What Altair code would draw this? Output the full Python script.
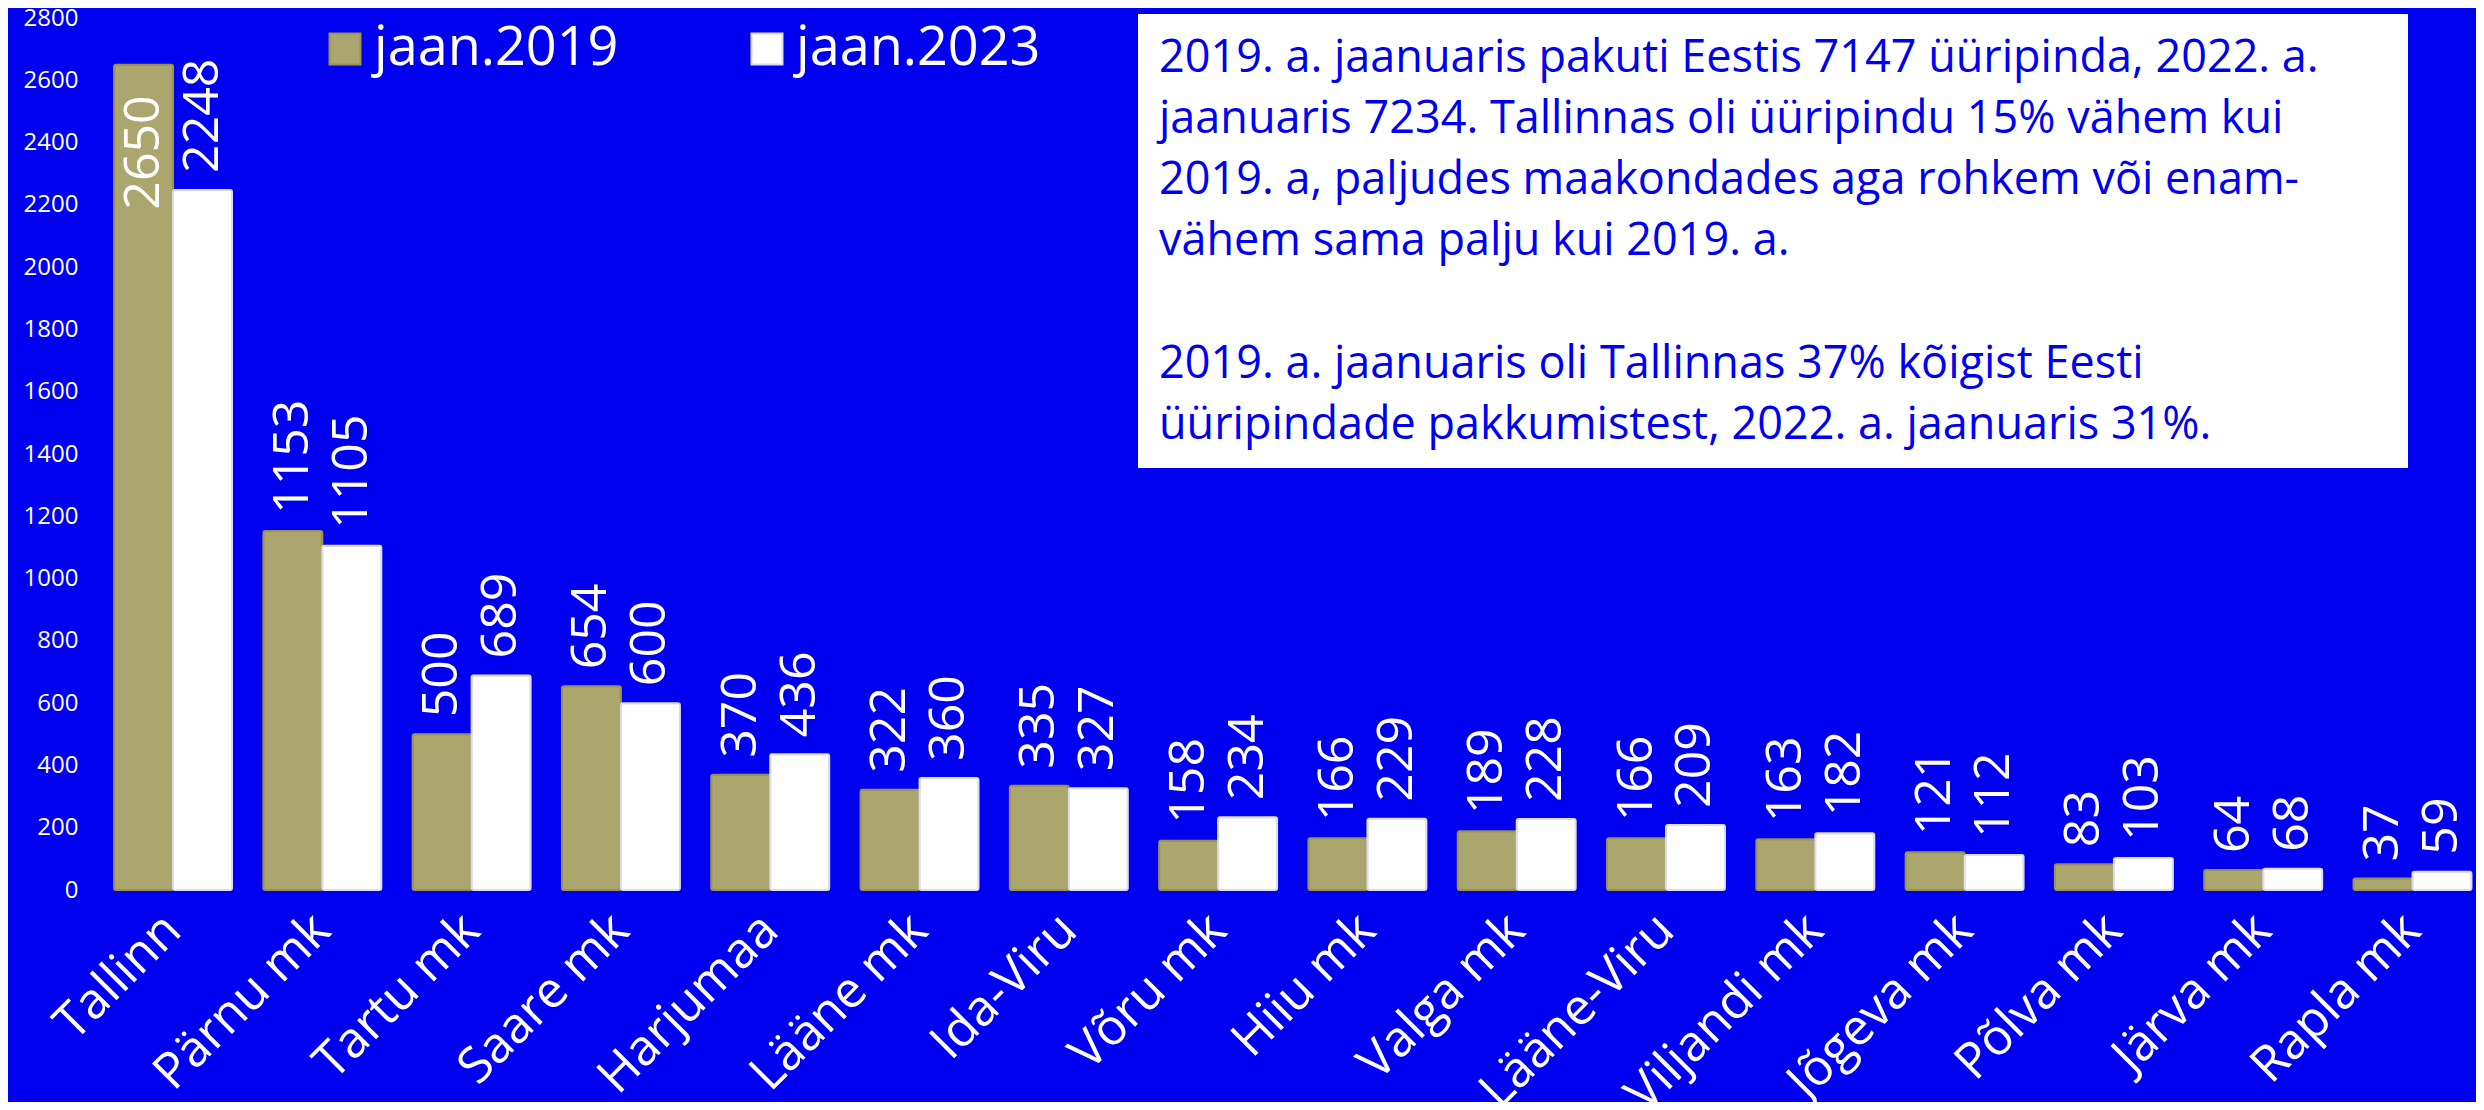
import altair as alt
import pandas as pd

regions = ["Tallinn", "Pärnu mk", "Tartu mk", "Saare mk", "Harjumaa", "Lääne mk",
           "Ida-Viru", "Võru mk", "Hiiu mk", "Valga mk", "Lääne-Viru", "Viljandi mk",
           "Jõgeva mk", "Põlva mk", "Järva mk", "Rapla mk"]
v2019 = [2650, 1153, 500, 654, 370, 322, 335, 158, 166, 189, 166, 163, 121, 83, 64, 37]
v2023 = [2248, 1105, 689, 600, 436, 360, 327, 234, 229, 228, 209, 182, 112, 103, 68, 59]
series = ["jaan.2019", "jaan.2023"]
y_ticks = list(range(0, 2801, 200))
note_par1 = [
    "2019. a. jaanuaris pakuti Eestis 7147 üüripinda, 2022. a.",
    "jaanuaris 7234. Tallinnas oli üüripindu 15% vähem kui",
    "2019. a, paljudes maakondades aga rohkem või enam-",
    "vähem sama palju kui 2019. a.",
]
note_par2 = [
    "2019. a. jaanuaris oli Tallinnas 37% kõigist Eesti",
    "üüripindade pakkumistest, 2022. a. jaanuaris 31%.",
]

BLUE = "#0000F0"
KHAKI = "#ABA66D"
FONT = "Open Sans"

rows = []
for r, a, b in zip(regions, v2019, v2023):
    rows.append({"region": r, "series": series[0], "value": a})
    rows.append({"region": r, "series": series[1], "value": b})
df = pd.DataFrame(rows)

x_enc = alt.X("region:N", sort=regions,
              scale=alt.Scale(paddingInner=0.21, paddingOuter=0.069, align=0.78),
              axis=alt.Axis(title=None, labelAngle=-45, labelAlign="right",
                            labelBaseline="middle", labelFontSize=50, labelColor="white",
                            labelFont=FONT, labelPadding=32, ticks=False, domain=False,
                            labelLimit=600, labelOverlap=False, grid=False))
xoff = alt.XOffset("series:N", sort=series)
y_scale = alt.Scale(domain=[0, 2800], nice=False)

base = alt.Chart(df)

bars = base.mark_bar(cornerRadius=2, strokeWidth=2).encode(
    x=x_enc,
    xOffset=xoff,
    y=alt.Y("value:Q", scale=y_scale,
            axis=alt.Axis(title=None, values=y_ticks, format="d", labelFontSize=24,
                          labelColor="white", labelFont=FONT, labelPadding=20,
                          ticks=False, domain=False, grid=False)),
    fill=alt.Fill("series:N", sort=series,
                  scale=alt.Scale(domain=series, range=[KHAKI, "#FFFFFF"]),
                  legend=alt.Legend(title=None, orient="none", legendX=220, legendY=4,
                                    direction="horizontal", symbolType="square",
                                    symbolSize=961, labelFontSize=54, labelColor="white",
                                    labelFont=FONT, labelOffset=2, columnPadding=121,
                                    labelLimit=500, padding=0, symbolStrokeWidth=2,
                                    symbolOpacity=1)),
    stroke=alt.Stroke("series:N", sort=series,
                      scale=alt.Scale(domain=series, range=["#9A9450", "#DCDCF0"]),
                      legend=None),
)

labels = base.transform_calculate(
    labelY="datum.value > 2400 ? datum.value - 520 : datum.value"
).mark_text(angle=270, align="left", baseline="middle", dx=17, fontSize=50,
            color="white", font=FONT).encode(
    x=alt.X("region:N", sort=regions),
    xOffset=xoff,
    y=alt.Y("labelY:Q", scale=y_scale),
    text=alt.Text("value:Q"),
)

note_df = pd.DataFrame({"k": [1]})
box = alt.Chart(note_df).mark_rect(color="white").encode(
    x=alt.value(1040), x2=alt.value(2310), y=alt.value(-4), y2=alt.value(450)
)
note_style = dict(align="left", baseline="alphabetic", fontSize=45, color=BLUE,
                  font=FONT, lineHeight=61)
note1 = alt.Chart(note_df).mark_text(**note_style).encode(
    x=alt.value(1061), y=alt.value(54), text=alt.value(note_par1))
note2 = alt.Chart(note_df).mark_text(**note_style).encode(
    x=alt.value(1061), y=alt.value(360), text=alt.value(note_par2))

chart = alt.layer(bars, labels, box, note1, note2).properties(
    width=2378, height=872,
    background=BLUE,
    padding={"left": 90, "top": 10, "right": 0, "bottom": 212},
    autosize=alt.AutoSizeParams(type="none"),
).configure_view(stroke=None).configure_legend(
    labelFont=FONT
)

chart.save("out.html", embed_options={"renderer": "svg", "actions": False})
